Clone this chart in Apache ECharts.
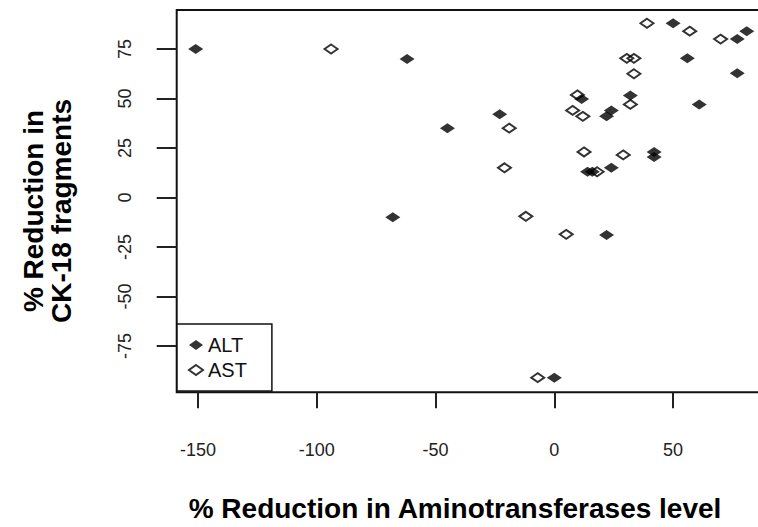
<!DOCTYPE html>
<html>
<head>
<meta charset="utf-8">
<script src="https://cdn.jsdelivr.net/npm/echarts@6/dist/echarts.min.js"></script>
<style>
html,body{margin:0;padding:0;background:#fff;}
#chart{width:758px;height:527px;}
</style>
</head>
<body>
<div id="chart"></div>
<script>
// ---- data ----
const altX = [-151, -62, -45, -68, -23, 11.5, 22, 24, 32, 42, 42, 14, 16, 24, 22, 0, 50, 56, 77, 81, 77, 61];
const altY = [75, 70, 35, -10, 42, 49.7, 41, 44, 51.5, 23, 20.5, 13, 13, 15, -19, -91, 88, 70.3, 80, 84, 62.7, 47];
const astX = [-94, 39, 57, 70, 30.5, 33.5, 33.5, 32, 9.7, 7.7, 12, -19, 12.5, 29, -21, 18, -12, 5, -7];
const astY = [75, 88, 84, 80, 70.3, 70.3, 62.5, 47, 51.8, 44, 41, 35, 23, 21.5, 15, 13, -9.5, -18.6, -91];
const xTicks = [-150, -100, -50, 0, 50];
const yTicks = [-75, -50, -25, 0, 25, 50, 75];
const xTitle = '% Reduction in Aminotransferases level';
const yTitleLines = ['% Reduction in', 'CK-18 fragments'];
const seriesNames = ['ALT', 'AST'];

const FONT = "'Liberation Sans', Arial, Helvetica, sans-serif";
const zip = (xs, ys) => xs.map((x, i) => [x, ys[i]]);

const chart = echarts.init(document.getElementById('chart'), null, {renderer: 'svg'});
chart.setOption({
  animation: false,
  backgroundColor: '#fff',
  grid: {
    left: 176.7, top: 10, width: 600.9, height: 382.3,
    outerBoundsMode: 'none', containLabel: false,
    show: true, borderColor: '#111', borderWidth: 2, backgroundColor: 'transparent'
  },
  xAxis: {
    type: 'value', min: -159, max: 94,
    axisLine: {show: false, onZero: false},
    splitLine: {show: false},
    axisTick: {show: true, inside: false, length: 16, lineStyle: {color: '#222', width: 2}, customValues: xTicks},
    axisLabel: {show: true, margin: 49, color: '#222', fontSize: 18, fontFamily: FONT, customValues: xTicks}
  },
  yAxis: {
    type: 'value', min: -98.4, max: 94.7,
    axisLine: {show: false, onZero: false},
    splitLine: {show: false},
    axisTick: {show: true, inside: false, length: 20, lineStyle: {color: '#222', width: 2}, customValues: yTicks},
    axisLabel: {show: true, rotate: 90, margin: 43, color: '#222', fontSize: 18, fontFamily: FONT, customValues: yTicks}
  },
  legend: {
    show: true, orient: 'vertical', left: 177, top: 324,
    padding: [11, 25, 11, 11],
    itemWidth: 14, itemHeight: 10, itemGap: 5, itemTextGap: 26,
    borderColor: '#111', borderWidth: 1.5, backgroundColor: '#fff',
    textStyle: {fontSize: 20, lineHeight: 20, color: '#111', fontFamily: FONT},
    data: seriesNames
  },
  graphic: [
    {type: 'text', x: 455, y: 508, style: {text: xTitle, fill: '#000', font: 'bold 28px ' + FONT, textAlign: 'center', textVerticalAlign: 'middle'}},
    {type: 'text', x: 33, y: 211, rotation: Math.PI / 2, style: {text: yTitleLines[0], fill: '#000', font: 'bold 28px ' + FONT, textAlign: 'center', textVerticalAlign: 'middle'}},
    {type: 'text', x: 61, y: 211, rotation: Math.PI / 2, style: {text: yTitleLines[1], fill: '#000', font: 'bold 28px ' + FONT, textAlign: 'center', textVerticalAlign: 'middle'}}
  ],
  series: [
    {
      name: seriesNames[1], type: 'scatter', symbol: 'diamond', symbolSize: [13, 9], z: 2,
      itemStyle: {color: 'rgba(255,255,255,0)', borderColor: '#000', borderWidth: 2},
      data: zip(astX, astY)
    },
    {
      name: seriesNames[0], type: 'scatter', symbol: 'diamond', symbolSize: [15, 10], z: 3,
      itemStyle: {color: '#000'},
      data: zip(altX, altY)
    }
  ]
});
</script>
</body>
</html>
